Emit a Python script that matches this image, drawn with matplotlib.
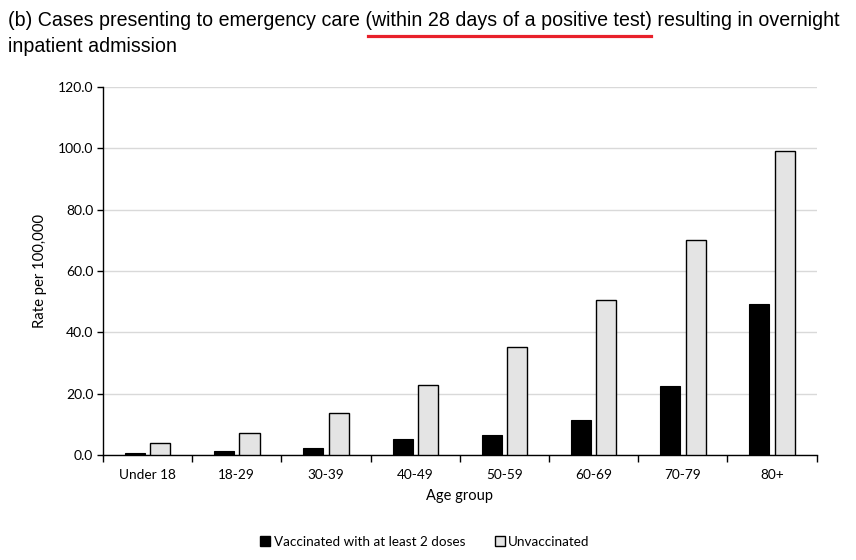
import matplotlib
matplotlib.use("Agg")
import matplotlib.pyplot as plt
from matplotlib.patches import Patch
from matplotlib.lines import Line2D
import numpy as np

age_groups = ["Under 18", "18-29", "30-39", "40-49", "50-59", "60-69", "70-79", "80+"]
vaccinated = [0.7, 1.3, 2.3, 5.1, 6.6, 11.5, 22.5, 49.1]
unvaccinated = [3.9, 7.2, 13.7, 22.9, 35.1, 50.7, 70.2, 99.0]
y_ticks = [0, 20, 40, 60, 80, 100, 120]

TITLE_FONT = "Liberation Sans"
BODY_FONT = "Lato"
UNVAX_COLOR = "#e4e4e4"
TITLE_SIZE = 14.1

fig = plt.figure(figsize=(8.56, 5.6), dpi=100)
ax = fig.add_axes([0.1203, 0.1875, 0.8338, 0.6571])

x = np.arange(len(age_groups))
w = 0.225
off = 0.142
ax.bar(x - off, vaccinated, w, color="black", edgecolor="black", linewidth=0.8, zorder=3)
ax.bar(x + off, unvaccinated, w, color=UNVAX_COLOR, edgecolor="black", linewidth=1.0, zorder=3)

ax.set_xlim(-0.5, len(age_groups) - 0.5)
ax.set_ylim(0, 120)
ax.set_yticks(y_ticks)
ax.set_yticklabels([f"{v:.1f}" for v in y_ticks], fontfamily=BODY_FONT, fontsize=10)
ax.set_xticks(x)
ax.set_xticklabels(age_groups, fontfamily=BODY_FONT, fontsize=9.8)
ax.tick_params(axis="x", length=0, pad=10)
ax.set_xticks(np.arange(-0.5, len(age_groups)), minor=True)
ax.tick_params(axis="x", which="minor", length=5, width=1, direction="out")
ax.tick_params(axis="y", length=4, width=1, direction="out", pad=3)
ax.grid(axis="y", color="#d9d9d9", linewidth=1, zorder=0)
for s in ["top", "right"]:
    ax.spines[s].set_visible(False)
for s in ["left", "bottom"]:
    ax.spines[s].set_linewidth(1)
ax.set_xlabel("Age group", fontfamily=BODY_FONT, fontsize=10.5, labelpad=6)
ax.set_ylabel("Rate per 100,000", fontfamily=BODY_FONT, fontsize=10.7, labelpad=8)

# title in two lines, with the red underline under the bracketed part
line1_pre = "(b) Cases presenting to emergency care "
line1_mid = "(within 28 days of a positive test)"
line1 = line1_pre + line1_mid + " resulting in overnight"
tx, ty = 8 / 856, 1 - 20 / 560
fig.text(tx, ty, line1, fontfamily=TITLE_FONT, fontsize=TITLE_SIZE, va="center", ha="left")
fig.text(tx, 1 - 47 / 560, "inpatient admission", fontfamily=TITLE_FONT, fontsize=TITLE_SIZE,
         va="center", ha="left")

renderer = fig.canvas.get_renderer()
def text_width(s):
    t = fig.text(0, 0, s, fontfamily=TITLE_FONT, fontsize=TITLE_SIZE)
    wpx = t.get_window_extent(renderer).width
    t.remove()
    return wpx
x0 = tx * 856 + text_width(line1_pre) + 3
x1 = tx * 856 + text_width(line1_pre + line1_mid) - 1
fig.add_artist(Line2D([x0 / 856, x1 / 856], [1 - 36 / 560] * 2, color="#e8202a",
                      linewidth=2.3, transform=fig.transFigure))

handles = [Patch(facecolor="black", edgecolor="black", label="Vaccinated with at least 2 doses"),
           Patch(facecolor=UNVAX_COLOR, edgecolor="black", label="Unvaccinated")]
fig.legend(handles=handles, loc="center", bbox_to_anchor=(425 / 856, 1 - 542 / 560), ncol=2,
           frameon=False, prop={"family": BODY_FONT, "size": 9.7},
           handlelength=0.75, handleheight=0.75, handletextpad=0.25, columnspacing=2.2)

fig.savefig("out.png", dpi=100)
